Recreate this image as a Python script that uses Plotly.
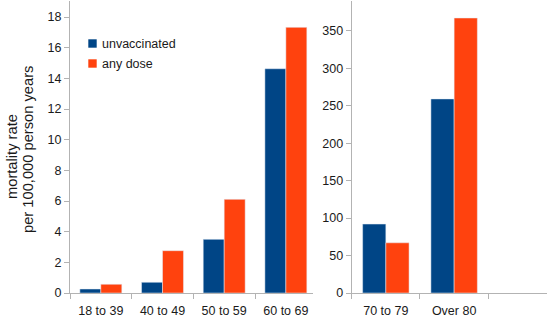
import plotly.graph_objects as go

# Mortality per 100,000 person years by age group
young_groups = ["18 to 39", "40 to 49", "50 to 59", "60 to 69"]
young_unvaccinated = [0.26, 0.70, 3.50, 14.63]
young_any_dose = [0.57, 2.76, 6.11, 17.33]

old_groups = ["70 to 79", "Over 80"]
old_unvaccinated = [92, 259]
old_any_dose = [67, 367]

series_names = ["unvaccinated", "any dose"]

BLUE = "#004586"
ORANGE = "#ff420e"
AXIS_GREY = "#b3b3b3"
TEXT = "#1a1a1a"
FONT = "Liberation Sans"

W, H = 547, 323


def px_x(p):
    return p / W


def px_y(p):
    return (H - p) / H


fig = go.Figure()
fig.add_trace(go.Bar(x=young_groups, y=young_unvaccinated, name=series_names[0],
                     marker_color=BLUE, xaxis="x", yaxis="y"))
fig.add_trace(go.Bar(x=young_groups, y=young_any_dose, name=series_names[1],
                     marker_color=ORANGE, xaxis="x", yaxis="y"))
fig.add_trace(go.Bar(x=old_groups, y=old_unvaccinated, name=series_names[0],
                     marker_color=BLUE, xaxis="x2", yaxis="y2"))
fig.add_trace(go.Bar(x=old_groups, y=old_any_dose, name=series_names[1],
                     marker_color=ORANGE, xaxis="x2", yaxis="y2"))

axis_common = dict(showline=True, linecolor=AXIS_GREY, linewidth=1, showgrid=False,
                   zeroline=False, ticks="outside", ticklen=5, tickcolor=AXIS_GREY,
                   tickwidth=1, automargin=False,
                   tickfont=dict(family=FONT, size=12.5, color=TEXT))
x_common = dict(type="category", tickson="boundaries", ticklabelstandoff=6,
                **axis_common)

y_dom = [px_y(293), px_y(1)]

fig.update_layout(
    width=W, height=H,
    margin=dict(l=0, r=0, t=0, b=0, pad=0, autoexpand=False),
    paper_bgcolor="white", plot_bgcolor="white",
    barmode="group", bargap=0.32, bargroupgap=0,
    font=dict(family=FONT, color=TEXT),
    showlegend=False,
    xaxis=dict(domain=[px_x(70), px_x(313)], anchor="y", range=[-0.5, 3.44],
               **x_common),
    yaxis=dict(domain=y_dom, anchor="x", range=[0, 19.05], dtick=2,
               **axis_common),
    xaxis2=dict(domain=[px_x(351.7), 1], anchor="y2", range=[-0.5, 2.36],
                **x_common),
    yaxis2=dict(domain=y_dom, anchor="x2", range=[0, 389.7], dtick=50,
                **axis_common),
)

# Legend: colour swatch + label, placed inside the left panel
for i, (name, color) in enumerate(zip(series_names, [BLUE, ORANGE])):
    cy = 43.5 + i * 20
    fig.add_shape(type="rect", xref="paper", yref="paper",
                  x0=px_x(88.3), x1=px_x(96.7), y0=px_y(cy - 4.2), y1=px_y(cy + 4.2),
                  fillcolor=color, line=dict(width=0))
    fig.add_annotation(text=name, x=px_x(99.5), y=px_y(cy), xref="paper", yref="paper",
                       xanchor="left", yanchor="middle", showarrow=False,
                       font=dict(family=FONT, size=12.5, color=TEXT))

# Two-line y-axis title
fig.add_annotation(text="mortality rate", x=px_x(12), y=px_y(157), xref="paper",
                   yref="paper", textangle=-90, showarrow=False,
                   xanchor="center", yanchor="middle",
                   font=dict(family=FONT, size=14.7, color=TEXT))
fig.add_annotation(text="per 100,000 person years", x=px_x(28), y=px_y(150),
                   xref="paper", yref="paper", textangle=-90, showarrow=False,
                   xanchor="center", yanchor="middle",
                   font=dict(family=FONT, size=14.7, color=TEXT))

fig.write_html("out.html")
